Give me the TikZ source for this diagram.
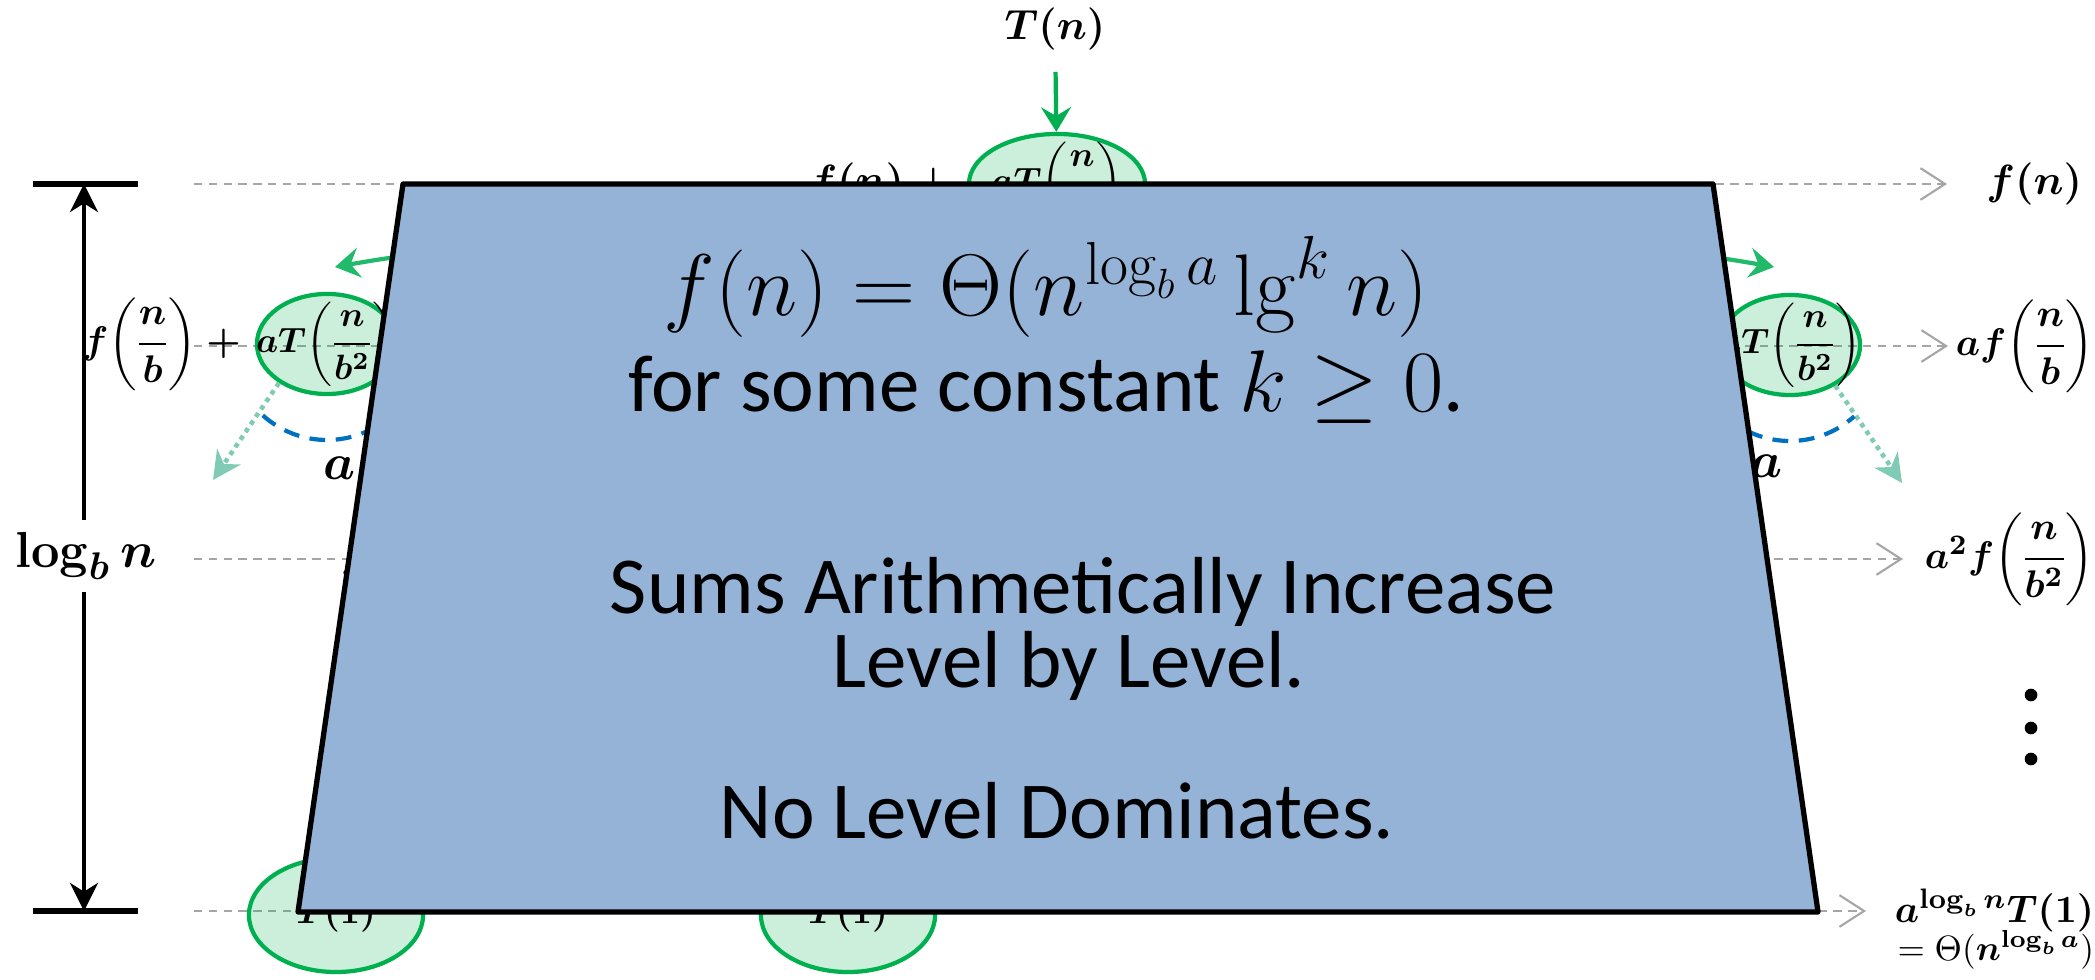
\documentclass[tikz,border=0pt]{standalone}
\usepackage{amsmath,amssymb}
\usepackage{bm}
\usepackage[no-math]{fontspec}
\setmainfont{Carlito}
\usetikzlibrary{arrows.meta, shapes.geometric, positioning}
\definecolor{treegreen}{RGB}{0,176,80}
\definecolor{sidegreen}{RGB}{33,185,106}
\definecolor{dotteal}{RGB}{127,203,181}
\definecolor{arcblue}{RGB}{0,112,192}
\definecolor{boxblue}{RGB}{149,179,215}
\definecolor{levelgray}{RGB}{166,166,166}

\tikzset{
  lbl/.style={font=\fontsize{12}{14}\selectfont\boldmath, inner sep=1pt},
  fraclbl/.style={font=\fontsize{11}{13}\selectfont\boldmath, inner sep=1pt},
  sublbl/.style={font=\fontsize{10}{12}\selectfont, inner sep=1pt},
  oval/.style={font=\fontsize{10}{12}\selectfont\boldmath, inner sep=0pt},
  subprob/.style={ellipse, draw=treegreen, line width=1.2pt, fill=treegreen, fill opacity=0.2,
    draw opacity=1, text opacity=1, minimum width=1.4cm, minimum height=1cm, inner sep=0pt},
  leaf/.style={subprob, minimum width=1.74cm, minimum height=1.14cm},
  levelline/.style={levelgray, line width=0.6pt, dash pattern=on 2.4pt off 1.8pt,
    -{Straight Barb[length=7pt,width=9pt]}},
  rootarrow/.style={treegreen, line width=1.2pt, -{Stealth[length=7pt,width=8.5pt,inset=2.5pt]}},
  sidearrow/.style={sidegreen, line width=1.2pt, -{Stealth[length=7pt,width=8.5pt,inset=2.5pt]}},
  spread/.style={dotteal, line width=1.3pt, dash pattern=on 1.3pt off 1.3pt,
    -{Stealth[length=8pt,width=8pt,inset=2.5pt]}},
  fanarc/.style={arcblue, line width=1.2pt, dash pattern=on 4.5pt off 3pt},
  depth/.style={line width=0.9pt, -{Stealth[length=8pt,width=8pt,inset=2.5pt]}},
  bar/.style={line width=1.5pt},
  bigtext/.style={font=\fontsize{23}{20}\selectfont, inner sep=0pt}
}
\newcommand{\fr}[2]{\biggl(\mkern-1mu\dfrac{#1}{#2}\mkern-1mu\biggr)}

\begin{document}
\begin{tikzpicture}[x=0.01cm, y=-0.01cm]
  \useasboundingbox (0,0) rectangle (2095,980);

  % levels of the recursion tree
  \coordinate (s0) at (194,184); \coordinate (e0) at (1947,184);
  \coordinate (s1) at (194,346); \coordinate (e1) at (1948,346);
  \coordinate (s2) at (194,559); \coordinate (e2) at (1903,559);
  \coordinate (s3) at (194,911); \coordinate (e3) at (1866,911);
  \foreach \i in {0,...,3}
    \draw[levelline] (s\i) -- (e\i);

  % cost of each level
  \node[lbl, right=10pt of e0] (r0) {$f(n)$};
  \node[fraclbl, right=1pt of e1] (r1) {$af\fr{n}{b}$};
  \node[fraclbl, right=5pt of e2] (r2) {$a^2f\fr{n}{b^2}$};
  \node[fraclbl, right=7pt of e3] (r3) {$a^{\log_b n}T(1)$};
  \node[sublbl, anchor=north east] (r3b) at ([yshift=3pt]r3.south east) {$=\Theta(\bm{n}^{\bm{\log_b a}})$};
  \foreach \y in {695,728,759}
    \fill (2031,\y) circle (1.8pt);

  % height of the tree
  \coordinate (bt) at (84,184); \coordinate (bb) at (84,911);
  \draw[bar] (33,184) -- (138,184);
  \draw[bar] (33,911) -- (138,911);
  \node[font=\fontsize{15}{17}\selectfont\boldmath] (height) at (86,556) {$\log_b n$};
  \draw[depth] (height.north -| bt) -- (bt);
  \draw[depth] (height.south -| bb) -- (bb);

  % the tree itself
  \node[lbl] (tn) at (1055,29) {$T(n)$};
  \node[subprob, minimum width=1.76cm, label={[oval]center:$aT\fr{n}{b}$}] (root) at (1057,184) {};
  \node[lbl, left=0pt of root] (rootf) {$f(n) + {}$};
  \draw[rootarrow, shorten <=5pt] (tn) -- (root);

  \node[subprob, label={[oval]center:$aT\fr{n}{b^2}$}] (lkid) at (327,344) {};
  \node[fraclbl, left=0pt of lkid] (lkidf) {$f\fr{n}{b} + {}$};
  \node[subprob, label={[oval]center:$aT\fr{n}{b^2}$}] (rkid) at (1790,345) {};
  \node[fraclbl, left=0pt of rkid] (rkidf) {$f\fr{n}{b} + {}$};
  \node[fraclbl, anchor=west] (lgrand) at (337,559) {$f\fr{n}{b^2}$};

  \coordinate (ltip) at (335,267); \coordinate (rtip) at (1774,267);
  \draw[sidearrow] (root.200) to[out=190,in=10] (ltip);
  \draw[sidearrow] (root.340) to[out=-10,in=170] (rtip);

  \coordinate (ldot) at (213,480); \coordinate (rdot) at (1902,483);
  \draw[spread] (lkid.219) -- (ldot);
  \draw[spread] (rkid.318) -- (rdot);
  \draw[fanarc] ([shift={(132:96)}]lkid.center) arc[start angle=132, end angle=48, radius=96];
  \draw[fanarc] ([shift={(132:96)}]rkid.center) arc[start angle=132, end angle=48, radius=96];
  \node[font=\fontsize{14}{16}\selectfont\boldmath] (la) at (340,468) {$a$};
  \node[font=\fontsize{14}{16}\selectfont\boldmath] (ra) at (1766,466) {$a$};

  \node[leaf, label={[oval]center:$T(1)$}] (leafl) at (336,915) {};
  \node[leaf, label={[oval]center:$T(1)$}] (leafm) at (848,915) {};

  % summary box on top
  \draw[line width=1.5pt, fill=boxblue, line join=round]
    (403,184) -- (1713,184) -- (1818,912) -- (298,912) -- cycle;
  \node[bigtext] (thm) at (1046,287) {$f(n) = \Theta(n^{\log_b a}\lg^k n)$};
  \node[bigtext] (cond) at (1046,387) {for some constant $k \geq 0$.};
  \node[bigtext] (sums) at (1083,592) {Sums Arithmetically Increase};
  \node[bigtext] (lvl) at (1069,666) {Level by Level.};
  \node[bigtext] (nodom) at (1057,811) {No Level Dominates.};
\end{tikzpicture}
\end{document}
